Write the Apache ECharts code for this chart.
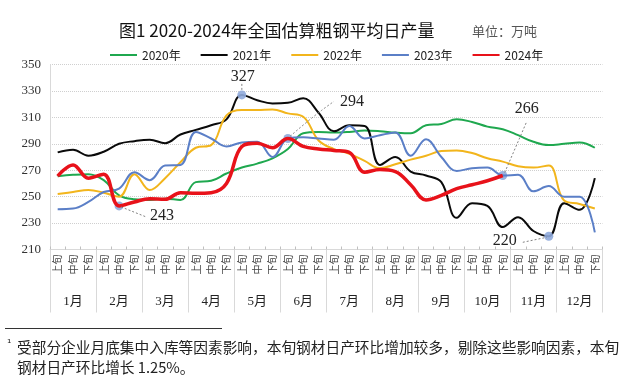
<!DOCTYPE html>
<html><head><meta charset="utf-8">
<script src="https://cdn.jsdelivr.net/npm/echarts@6/dist/echarts.min.js"></script>
<style>html,body{margin:0;padding:0;background:#fff}#c{width:629px;height:384px}</style>
</head><body><div id="c"></div>
<script>
const months = ['1月','2月','3月','4月','5月','6月','7月','8月','9月','10月','11月','12月'];
const dekads = ['上旬','中旬','下旬'];
const yTicks = [210, 350, 20];
const s2020 = [265.5,266.5,267,262.5,251,248,247.5,248.5,247.5,261,262,267.5,272,275,279,286,298,299,298.5,299,300,299.5,298.5,298,304,305,308.5,306.5,303,301,296.5,291.5,289,290,291,287];
const s2021 = [283.5,285.5,281,284,290,292,293,290.5,297,300.5,304,308.5,327,323,320.5,321,324.5,313.5,299.5,304,303.5,274,280,269,266,261,234,245,243,227,234.5,224,220,245,240,264];
const s2022 = [252,253.5,255,253,250,267,255,264,276,287,289,311.5,315.5,315.5,316,313,310.5,292.5,286,282.5,277,271.5,274.5,278,281,284.5,285,283,279,276.5,273,272,273.5,247,244.5,241];
const s2023 = [240.5,241,246,253.5,256,268.5,262.5,273.5,274,299,294,288,291,291.5,280,294,295,294,293,303.5,294,296.5,298.5,281,293.5,280,269.5,271.5,272,266,266.5,254,258,250,250,223];
const s2024 = [265.5,274,264,267,243,246,248.5,248,253,252.5,253,260,288,290.5,287,294,288,286,285,283.5,268.5,270.5,269,259,247.5,251,256,259,262,266];
const yearNames = ['2020年','2021年','2022年','2023年','2024年'];
const colors = ['#1fa84f','#0a0a0a','#f2b51c','#5b7fc7','#e8121a'];
const widths = [2,2,2,2,3.5];
// annotated points: [series index, category index]
const notes = [[4,4],[1,12],[4,15],[4,29],[1,32]];

const dekadLabels = [];
months.forEach(() => dekads.forEach(d => dekadLabels.push(d)));
const allSeries = [s2020, s2021, s2022, s2023, s2024];

const chart = echarts.init(document.getElementById('c'), null, {renderer:'canvas'});
const series = allSeries.map((d, i) => ({
  name: yearNames[i], type: 'line', data: d, smooth: 0.4, symbol: 'none',
  xAxisIndex: 0, yAxisIndex: 0,
  lineStyle: {color: colors[i], width: widths[i]}, itemStyle: {color: colors[i]},
  z: 2 + i,
  markPoint: {
    symbol: 'circle', symbolSize: 9, label: {show: false},
    itemStyle: {color: 'rgba(143,170,220,0.9)'},
    data: notes.filter(n => n[0] === i).map(n => ({coord: [n[1], d[n[1]]]}))
  }
}));

chart.setOption({
  animation: false,
  title: [
    {text: '图1 2020-2024年全国估算粗钢平均日产量', left: 114, top: 17,
     textStyle: {fontFamily: 'Noto Sans CJK SC', fontSize: 17, fontWeight: 'normal', color: '#111'}},
    {text: '单位：万吨', left: 467, top: 20,
     textStyle: {fontFamily: 'Noto Sans CJK SC', fontSize: 13, fontWeight: 'normal', color: '#555'}}
  ],
  legend: {
    top: 44, left: 104, itemWidth: 27, itemHeight: 12, itemGap: 19,
    itemStyle: {opacity: 0},
    textStyle: {fontFamily: 'Noto Sans CJK SC', fontSize: 12, color: '#222'},
    data: yearNames
  },
  grid: {left: 50, right: 26.5, top: 64.5, bottom: 134.5, containLabel: false},
  xAxis: [
    {type: 'category', data: dekadLabels, boundaryGap: true, position: 'bottom',
     axisLine: {lineStyle: {color: '#d9d9d9'}},
     axisTick: {show: true, inside: true, length: 3, lineStyle: {color: '#bfbfbf'}},
     axisLabel: {interval: 0, rotate: 90, fontSize: 10, margin: 5, color: '#444', fontFamily: 'Noto Sans CJK SC'}},
    {type: 'category', data: months, boundaryGap: true, position: 'bottom', offset: 0,
     axisLine: {show: false},
     axisTick: {show: true, length: 63, interval: 0, lineStyle: {color: '#d9d9d9'}},
     axisLabel: {interval: 0, margin: 46, fontSize: 13, color: '#222', fontFamily: "'Liberation Serif', 'Noto Sans CJK SC'"}}
  ],
  yAxis: {
    type: 'value', min: yTicks[0], max: yTicks[1], interval: yTicks[2],
    axisLine: {show: true, lineStyle: {color: '#d9d9d9'}},
    axisTick: {show: false},
    splitLine: {lineStyle: {type: 'dotted', color: '#cfcfcf'}},
    axisLabel: {margin: 9, fontSize: 13, color: '#333', fontFamily: 'Liberation Serif'}
  },
  series: series
});

// annotations: leader lines + value labels placed relative to the library's pixel positions
const offsets = [
  {lab: [43, 10], line: [[2, 1], [27, 11]], curve: false},
  {lab: [1, -18], line: [[0, -5], [0, -11]], curve: false},
  {lab: [64, -36.5], line: [[2, -2], [46, -37]], curve: true},
  {lab: [24, -66.5], line: [[2, -3], [24, -54]], curve: false},
  {lab: [-44, 5], line: [[-26, 6], [-2, 1]], curve: false}
];
const graphics = [];
notes.forEach((n, k) => {
  const val = allSeries[n[0]][n[1]];
  const p = chart.convertToPixel({seriesIndex: n[0]}, [n[1], val]);
  const o = offsets[k];
  const a = [p[0] + o.line[0][0], p[1] + o.line[0][1]];
  const b = [p[0] + o.line[1][0], p[1] + o.line[1][1]];
  if (o.curve) {
    graphics.push({type: 'bezierCurve', shape: {x1: a[0], y1: a[1], x2: b[0], y2: b[1], cpx1: a[0] + 25, cpy1: a[1] - 22},
      style: {stroke: '#808080', lineWidth: 1, lineDash: [2, 2], fill: null}, z: 20});
  } else {
    graphics.push({type: 'line', shape: {x1: a[0], y1: a[1], x2: b[0], y2: b[1]},
      style: {stroke: '#808080', lineWidth: 1, lineDash: [2, 2]}, z: 20});
  }
  graphics.push({type: 'text', x: p[0] + o.lab[0], y: p[1] + o.lab[1], z: 21,
    style: {text: String(Math.round(val)), fontFamily: 'Liberation Serif', fontSize: 16, fill: '#222', align: 'center', verticalAlign: 'middle'}});
});
// footnote
graphics.push({type: 'line', shape: {x1: 5, y1: 328.5, x2: 222, y2: 328.5}, style: {stroke: '#333', lineWidth: 1}});
graphics.push({type: 'text', x: 7, y: 339, style: {text: '¹', fontSize: 11, fill: '#222', fontFamily: 'DejaVu Sans'}});
graphics.push({type: 'text', x: 17, y: 340, style: {text: '受部分企业月底集中入库等因素影响，本旬钢材日产环比增加较多，剔除这些影响因素，本旬', fontSize: 14.7, fill: '#222', fontFamily: 'Noto Sans CJK SC'}});
graphics.push({type: 'text', x: 17, y: 360, style: {text: '钢材日产环比增长 1.25%。', fontSize: 14.7, fill: '#222', fontFamily: 'Noto Sans CJK SC'}});
chart.setOption({graphic: graphics});
</script>
</body></html>
